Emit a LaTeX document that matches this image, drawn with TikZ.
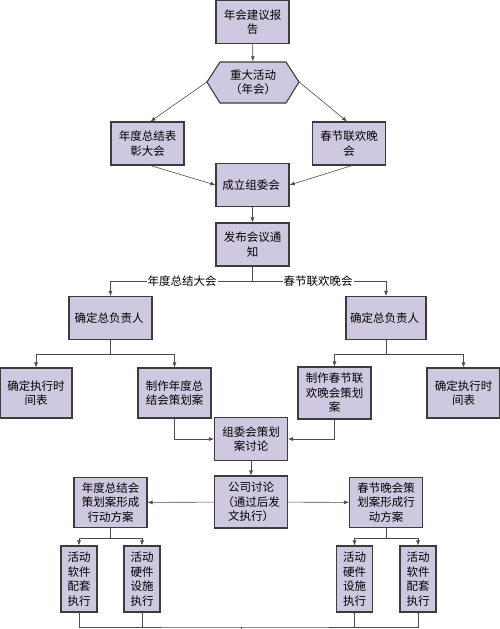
\documentclass[tikz,border=0pt]{standalone}
\usepackage{fontspec}
\setmainfont{Noto Sans CJK SC}
\usetikzlibrary{arrows.meta}
\definecolor{boxfill}{RGB}{206,201,224}
\definecolor{boxline}{RGB}{60,60,60}
\tikzset{
  box/.style={draw=boxline, fill=boxfill, line width=1.1pt, align=center,
    minimum width=73pt, minimum height=43pt, inner sep=1pt,
    font=\fontsize{11.5}{14.5}\selectfont},
  tall/.style={box, minimum width=36pt, minimum height=66pt},
  link/.style={draw=black!70, line width=0.6pt},
  arr/.style={link, -{Latex[length=5pt,width=4pt]}},
  lab/.style={fill=white, inner sep=1pt, font=\fontsize{11.5}{14}\selectfont}
}

\begin{document}
\begin{tikzpicture}[x=1pt,y=-1pt]
\useasboundingbox (0,0) rectangle (500,629);
% top part
\node[box] (bao) at (252.5,22) { 年会建议报\\告 };
\fill[boxfill] (207,82)--(220,62)--(286,62)--(299,82)--(286,103)--(220,103)--cycle;
\draw[boxline,line width=1.1pt] (207,82)--(220,62)--(286,62)--(299,82)--(286,103)--(220,103)--cycle;
\node[align=center, minimum width=92pt, minimum height=41pt, inner sep=0pt,
  font=\fontsize{11.5}{14.5}\selectfont] (huo) at (253,82) { 重大活动\\（年会） };
\node[box] (nian) at (147.5,143.5) { 年度总结表\\彰大会 };
\node[box] (chun) at (349,143.5) { 春节联欢晚\\会 };
\node[box] (zu) at (252.5,185) { 成立组委会 };
\node[box] (fabu) at (252.5,244.5) { 发布会议通\\知 };
\draw[arr] (bao) -- (huo);
\draw[arr] (huo.west) -- ([xshift=3pt]nian.north);
\draw[arr] (huo.east) -- ([xshift=-2pt]chun.north);
\draw[arr] ([xshift=3pt]nian.south) -- (zu.west);
\draw[arr] ([xshift=3pt]chun.south) -- (zu.east);
\draw[arr] (zu) -- (fabu);
% two branches
\node[box, minimum width=83pt] (fzr1) at (110.5,318) { 确定总负责人 };
\node[box, minimum width=80pt] (fzr2) at (386,318) { 确定总负责人 };
\coordinate (fork) at (252.5,281);
\draw[link] (fabu) -- (fork);
\draw[arr] (fork) -| (fzr1);
\draw[arr] (fork) -| (fzr2);
\node[lab] (l1) at (182,281) { 年度总结大会 };
\node[lab] (l2) at (318,281) { 春节联欢晚会 };
\node[box, minimum height=50pt, minimum width=72pt] (sj1) at (36,393) { 确定执行时\\间表 };
\node[box, minimum height=50pt] (ca1) at (174.5,393) { 制作年度总\\结会策划案 };
\node[box, minimum height=52pt] (ca2) at (334.5,393) { 制作春节联\\欢晚会策划\\案 };
\node[box, minimum height=50pt] (sj2) at (463.5,393) { 确定执行时\\间表 };
\coordinate (f1) at (110.5,354);
\coordinate (f2) at (386,354);
\draw[link] (fzr1) -- (f1);
\draw[arr] (f1) -| (sj1);
\draw[arr] (f1) -| (ca1);
\draw[link] (fzr2) -- (f2);
\draw[arr] (f2) -| (ca2);
\draw[arr] (f2) -| (sj2);
% discussion
\node[box] (tl) at (251,439) { 组委会策划\\案讨论 };
\node[box, minimum height=52pt] (gs) at (251,502) { 公司讨论\\（通过后发\\文执行） };
\draw[arr] (ca1) |- (tl);
\draw[arr] (ca2) |- (tl);
\draw[arr] (tl) -- (gs);
\node[box, minimum height=50pt] (fa1) at (110.5,502.5) { 年度总结会\\策划案形成\\行动方案 };
\node[box, minimum height=50pt] (fa2) at (386,502.5) { 春节晚会策\\划案形成行\\动方案 };
\draw[arr] (gs) -- (fa1);
\draw[arr] (gs) -- (fa2);
% execution
\node[tall] (rj1) at (79,579) { 活动\\软件\\配套\\执行 };
\node[tall] (yj1) at (142,579) { 活动\\硬件\\设施\\执行 };
\node[tall] (yj2) at (354.5,579) { 活动\\硬件\\设施\\执行 };
\node[tall] (rj2) at (418,579) { 活动\\软件\\配套\\执行 };
\coordinate (g1) at (110.5,538);
\coordinate (g2) at (386,538);
\draw[link] (fa1) -- (g1);
\draw[arr] (g1) -| (rj1);
\draw[arr] (g1) -| (yj1);
\draw[link] (fa2) -- (g2);
\draw[arr] (g2) -| (yj2);
\draw[arr] (g2) -| (rj2);
% bottom join
\coordinate (j) at (241,627);
\coordinate (jend) at (241,629);
\draw[link] (rj1) |- (j) -| (rj2);
\draw[link] (yj1) -- (yj1 |- j);
\draw[link] (yj2) -- (yj2 |- j);
\draw[link] (j) -- (jend);
\end{tikzpicture}
\end{document}
